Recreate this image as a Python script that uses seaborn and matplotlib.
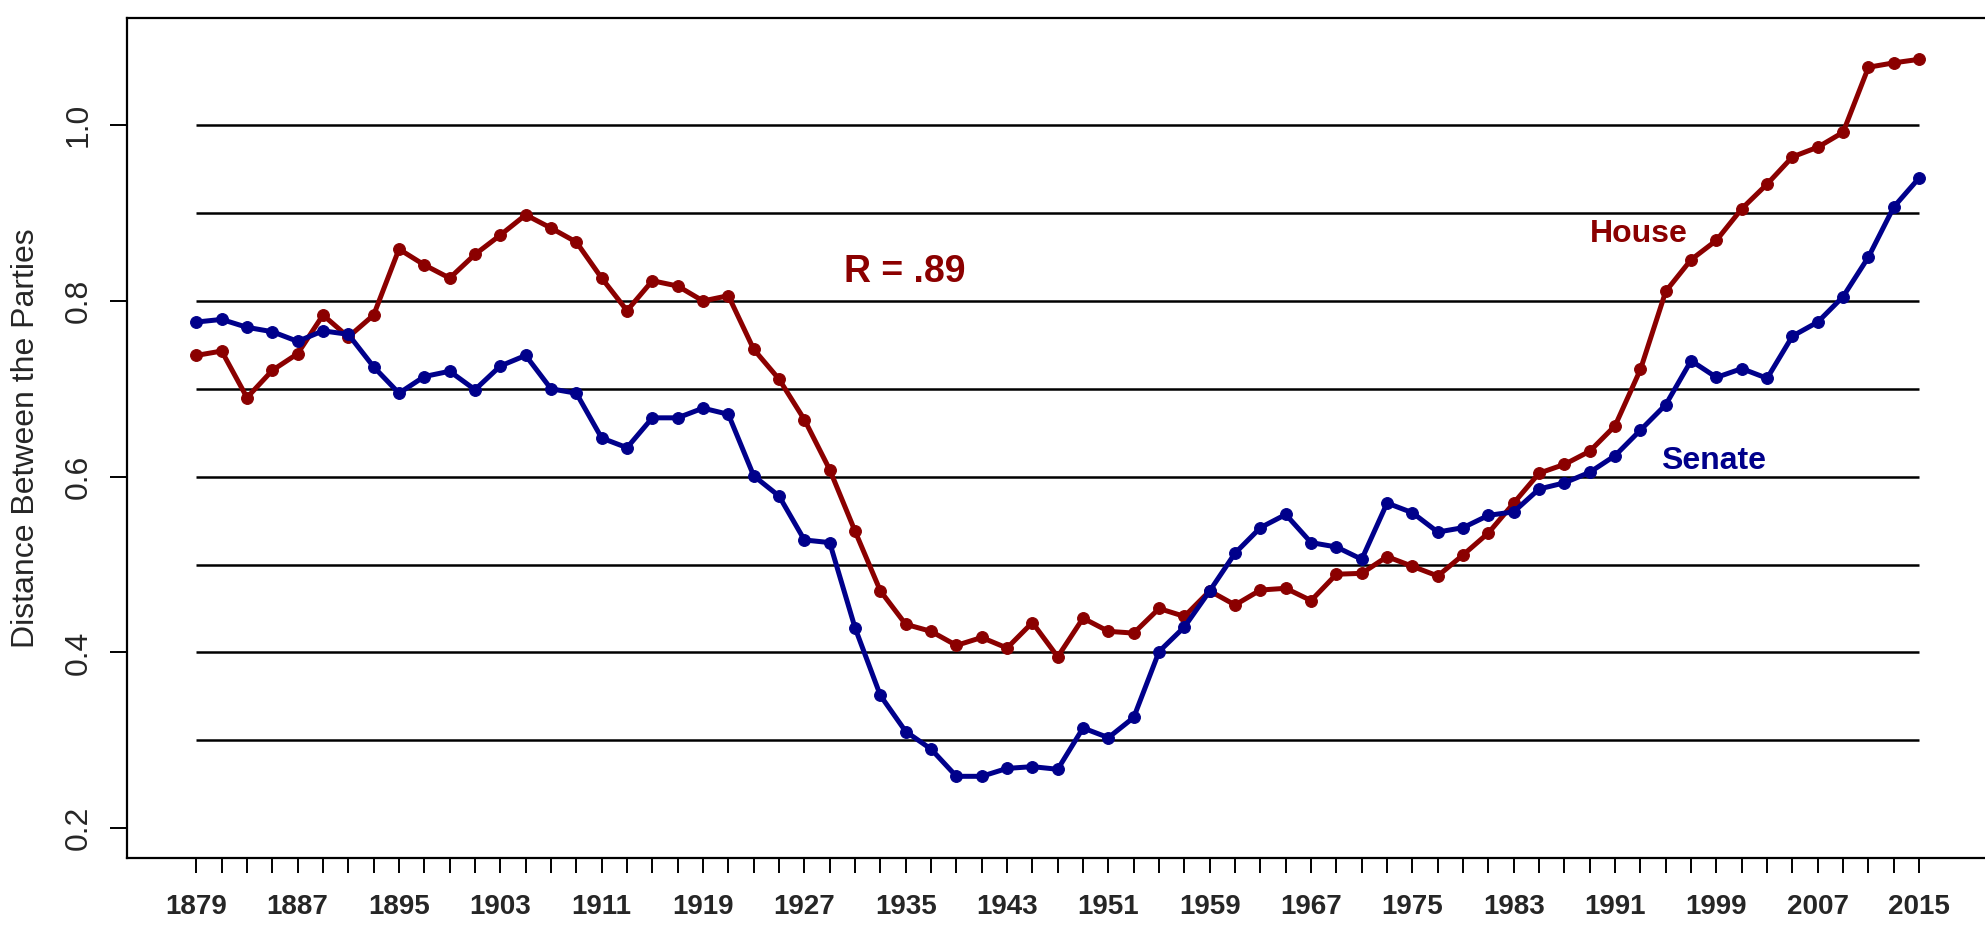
import matplotlib
matplotlib.use('Agg')
import matplotlib.pyplot as plt
import seaborn as sns
import numpy as np
import pandas as pd

# Congresses, every two years 1879-2015
years = list(range(1879, 2016, 2))

house = [0.738, 0.743, 0.690, 0.721, 0.740, 0.784, 0.759, 0.784, 0.859, 0.841,
         0.826, 0.853, 0.875, 0.898, 0.883, 0.867, 0.826, 0.789, 0.823, 0.817,
         0.800, 0.806, 0.745, 0.711, 0.665, 0.608, 0.538, 0.470, 0.432, 0.424,
         0.408, 0.417, 0.405, 0.434, 0.395, 0.439, 0.424, 0.422, 0.450, 0.441,
         0.470, 0.454, 0.471, 0.473, 0.459, 0.489, 0.490, 0.509, 0.498, 0.487,
         0.511, 0.536, 0.570, 0.604, 0.614, 0.629, 0.658, 0.722, 0.811, 0.847,
         0.869, 0.905, 0.933, 0.964, 0.975, 0.992, 1.066, 1.071, 1.075]

senate = [0.776, 0.779, 0.770, 0.765, 0.754, 0.766, 0.762, 0.725, 0.695, 0.714,
          0.720, 0.699, 0.726, 0.738, 0.700, 0.695, 0.644, 0.633, 0.667, 0.667,
          0.678, 0.671, 0.601, 0.578, 0.528, 0.525, 0.428, 0.351, 0.310, 0.290,
          0.259, 0.259, 0.268, 0.270, 0.267, 0.314, 0.303, 0.326, 0.401, 0.429,
          0.470, 0.513, 0.542, 0.557, 0.525, 0.520, 0.506, 0.570, 0.559, 0.537,
          0.542, 0.556, 0.560, 0.586, 0.593, 0.605, 0.624, 0.653, 0.682, 0.732,
          0.713, 0.723, 0.712, 0.760, 0.776, 0.805, 0.850, 0.907, 0.940]

label_years = list(range(1879, 2016, 8))
grid_values = [0.3, 0.4, 0.5, 0.6, 0.7, 0.8, 0.9, 1.0]
y_ticks = [0.2, 0.4, 0.6, 0.8, 1.0]

red = '#8B0000'
blue = '#00008B'

df = pd.DataFrame({'year': years, 'House': house, 'Senate': senate})

sns.set_style('white')
plt.rcParams['font.family'] = ['Liberation Sans', 'DejaVu Sans']

fig = plt.figure(figsize=(19.85, 9.26), dpi=100)
ax = fig.add_axes([0.0638, 0.0734, 0.9362, 0.9076])

# horizontal reference lines
ax.hlines(grid_values, years[0], years[-1], colors='black', linewidth=1.8, zorder=1)

sns.lineplot(data=df, x='year', y='House', ax=ax, color=red, linewidth=3.6,
             marker='o', markersize=8.5, markeredgecolor=red, zorder=3)
sns.lineplot(data=df, x='year', y='Senate', ax=ax, color=blue, linewidth=3.6,
             marker='o', markersize=8.5, markeredgecolor=blue, zorder=3)

ax.set_xlim(1873.5, 2020.2)
ax.set_ylim(0.166, 1.1225)

ax.set_xticks(years)
ax.set_xticklabels([str(y) if y in label_years else '' for y in years],
                   fontsize=20, fontweight='bold')
ax.tick_params(axis='x', direction='out', length=11, width=1.4, pad=15,
               bottom=True, color='black')

ax.set_yticks(y_ticks)
ax.set_yticklabels(['0.2', '0.4', '0.6', '0.8', '1.0'], rotation=90,
                   va='center', fontsize=23)
ax.tick_params(axis='y', direction='out', length=12, width=1.4, pad=12,
               left=True, color='black')

ax.set_xlabel('')
ax.set_ylabel('Distance Between the Parties', fontsize=23)
ax.yaxis.set_label_coords(-0.046, 0.5)

for side in ['left', 'bottom', 'top']:
    ax.spines[side].set_color('black')
    ax.spines[side].set_linewidth(1.6)
ax.spines['right'].set_visible(False)

ax.text(1934.9, 0.833, 'R = .89', color=red, fontsize=27, fontweight='bold',
        ha='center', va='center')
ax.text(1992.9, 0.876, 'House', color=red, fontsize=23, fontweight='bold',
        ha='center', va='center')
ax.text(1998.8, 0.618, 'Senate', color=blue, fontsize=23, fontweight='bold',
        ha='center', va='center')

fig.savefig('out.png', dpi=100)
